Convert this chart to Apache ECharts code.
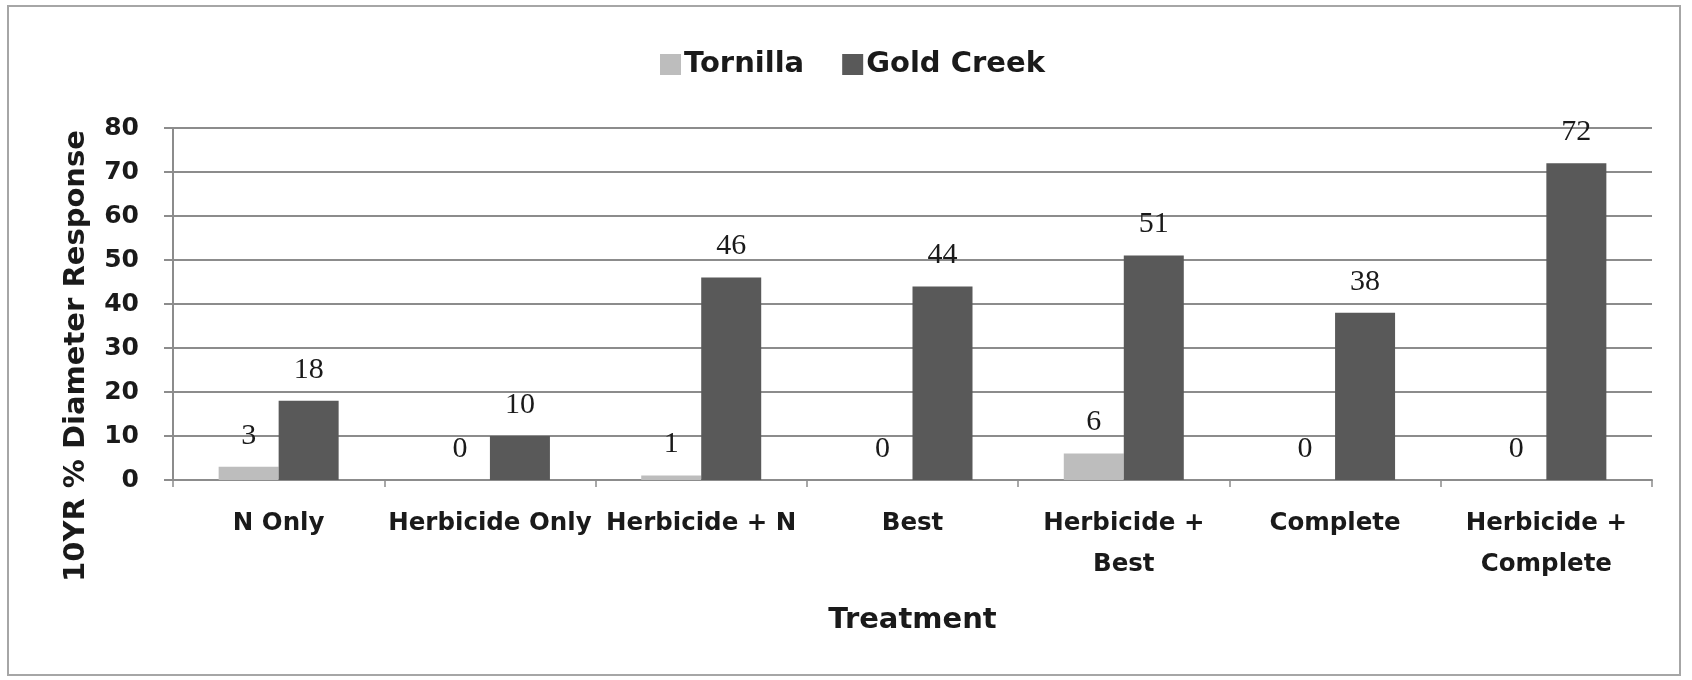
<!DOCTYPE html>
<html>
<head>
<meta charset="utf-8">
<script src="https://cdn.jsdelivr.net/npm/echarts@6/dist/echarts.min.js"></script>
<style>
html,body{margin:0;padding:0;background:#fff;}
#chart{width:1692px;height:680px;}
</style>
</head>
<body>
<div id="chart"></div>
<script>
const categories = ['N Only', 'Herbicide Only', 'Herbicide + N', 'Best', 'Herbicide +\nBest', 'Complete', 'Herbicide +\nComplete'];
const tornilla = [3, 0, 1, 0, 6, 0, 0];
const goldCreek = [18, 10, 46, 44, 51, 38, 72];
const yTicks = { min: 0, max: 80, interval: 10 };
const seriesNames = ['Tornilla', 'Gold Creek'];
const yAxisTitle = '10YR % Diameter Response';
const xAxisTitle = 'Treatment';

const chart = echarts.init(document.getElementById('chart'));
const sans = 'DejaVu Sans';
const labelStyle = {
  show: true, position: 'top', distance: 16,
  fontFamily: 'Liberation Serif', fontSize: 30, color: '#1a1a1a'
};
chart.setOption({
  animation: false,
  backgroundColor: '#fff',
  grid: { left: 173, right: 40, top: 128, bottom: 200, containLabel: false },
  legend: {
    left: 655, top: 45,
    itemWidth: 21, itemHeight: 21, itemGap: 38,
    icon: 'rect',
    textStyle: { fontFamily: sans, fontWeight: 'bold', fontSize: 29, color: '#1a1a1a', padding: [0, 0, 0, -2] },
    data: seriesNames
  },
  xAxis: {
    type: 'category',
    data: categories,
    name: xAxisTitle,
    nameLocation: 'middle',
    nameGap: 126,
    nameTextStyle: { fontFamily: sans, fontWeight: 'bold', fontSize: 29, color: '#1a1a1a' },
    axisLine: { show: true, lineStyle: { color: '#8c8c8c', width: 2 } },
    axisTick: { show: true, length: 7, lineStyle: { color: '#8c8c8c', width: 1.5 } },
    axisLabel: { fontFamily: sans, fontWeight: 'bold', fontSize: 24.5, color: '#1a1a1a', margin: 23, lineHeight: 41, interval: 0 }
  },
  yAxis: {
    type: 'value',
    min: yTicks.min, max: yTicks.max, interval: yTicks.interval,
    axisLine: { show: true, lineStyle: { color: '#8c8c8c', width: 2 } },
    axisTick: { show: true, length: 9, lineStyle: { color: '#8c8c8c', width: 2 } },
    axisLabel: { fontFamily: sans, fontWeight: 'bold', fontSize: 25, color: '#1a1a1a', margin: 34 },
    splitLine: { show: true, lineStyle: { color: '#8c8c8c', width: 2 } }
  },
  graphic: [
    {
      type: 'rect', silent: true, z: -10,
      shape: { x: 8, y: 6, width: 1672, height: 669 },
      style: { fill: 'none', stroke: '#a6a6a6', lineWidth: 2 }
    },
    {
      type: 'text', x: 76, y: 356, rotation: Math.PI / 2,
      style: {
        text: yAxisTitle, fontFamily: sans, fontWeight: 'bold', fontSize: 29,
        fill: '#1a1a1a', textAlign: 'center', textVerticalAlign: 'middle'
      }
    }
  ],
  series: [
    {
      name: seriesNames[0], type: 'bar', data: tornilla,
      barWidth: 60, barGap: '0%',
      itemStyle: { color: '#bdbdbd' },
      label: labelStyle
    },
    {
      name: seriesNames[1], type: 'bar', data: goldCreek,
      barWidth: 60, barGap: '0%',
      itemStyle: { color: '#595959' },
      label: labelStyle
    }
  ]
});
</script>
</body>
</html>
